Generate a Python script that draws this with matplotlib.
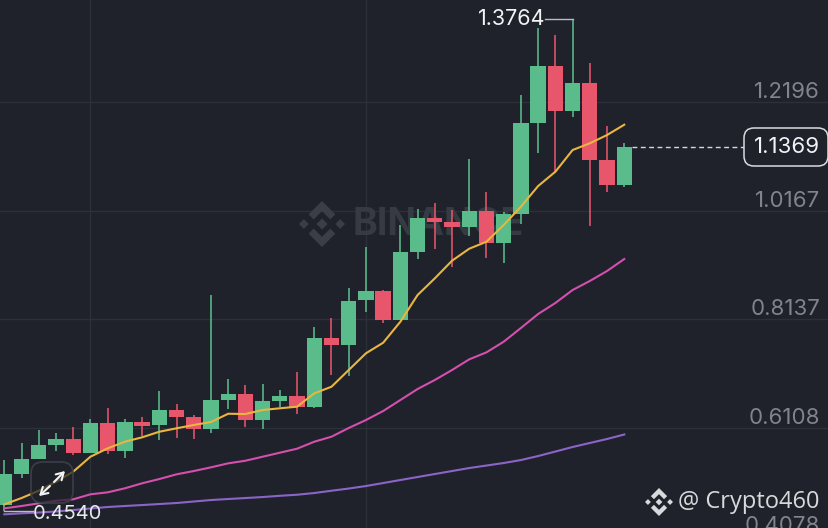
import matplotlib
matplotlib.use("Agg")
import matplotlib.pyplot as plt
from matplotlib.patches import FancyBboxPatch, Polygon

open_ = [.4656,.5231,.5518,.5780,.5887,.5630,.6192,.5673,.6211,.6149,.6436,.6305,.6074,.6623,.6735,.6243,.6599,.6692,
         .6498,.7790,.7647,.8490,.8665,.8127,.9395,1.0032,.9951,.9869,1.0169,.9564,1.0101,1.1817,1.2884,1.2042,1.2555,1.1113,1.0650]
close = [.5231,.5518,.5774,.5887,.5625,.6192,.5662,.6211,.6142,.6436,.6305,.6080,.6617,.6735,.6248,.6599,.6692,.6498,
         .7790,.7647,.8483,.8665,.8127,.9389,1.0032,.9951,.9858,1.0169,.9558,1.0101,1.1811,1.2884,1.2036,1.2555,1.1113,1.0650,1.1369]
high = [.5499,.5812,.6061,.5999,.6112,.6261,.6473,.6261,.6299,.6797,.6542,.6342,.8590,.7011,.6909,.6928,.6816,.7153,
        .7996,.8164,.8726,.9494,.8683,.9901,1.0195,1.0307,1.0176,1.1143,1.0513,1.0144,1.2330,1.3585,1.3465,1.3764,1.2929,1.1761,1.1431]
low = [.4540,.5168,.5518,.5673,.5593,.5630,.5612,.5542,.5949,.5868,.5917,.5887,.6011,.6460,.6117,.6085,.6492,.6355,
       .6479,.7091,.7073,.8271,.8060,.8127,.9270,.9446,.9120,.9695,.9283,.9183,.9919,1.1255,1.0869,1.1929,.9882,1.0513,1.0618]
ma_yellow = [.4669,.4787,.4924,.5093,.5280,.5561,.5718,.5842,.5924,.6029,.6093,.6155,.6211,.6366,.6361,.6436,.6468,.6498,
             .6748,.6872,.7185,.7498,.7696,.8090,.8590,.8902,.9232,.9457,.9588,.9901,1.0244,1.0631,1.0899,1.1305,1.1431,1.1586,1.1779]
ma_pink = [.4594,.4638,.4688,.4737,.4763,.4857,.4894,.4969,.5063,.5143,.5231,.5293,.5362,.5437,.5486,.5561,.5636,.5711,
           .5842,.5936,.6099,.6248,.6417,.6623,.6829,.6998,.7185,.7385,.7516,.7715,.7972,.8234,.8440,.8683,.8852,.9039,.9264]
ma_purple = [.4482,.4501,.4516,.4535,.4563,.4591,.4619,.4638,.4656,.4675,.4694,.4722,.4750,.4769,.4787,.4806,.4829,.4849,
             .4881,.4924,.4965,.5012,.5068,.5125,.5181,.5237,.5293,.5349,.5396,.5443,.5499,.5574,.5658,.5743,.5818,.5893,.5977]
price_ticks = [1.2196, 1.0167, 0.8137, 0.6108, 0.4078]
last_price = 1.1369

BG = "#1f222b"; GRID = "#2c3039"; GREEN = "#5abb8b"; RED = "#e7566a"
W, H = 829, 528
FS = 15.5
plt.rcParams['font.family'] = ['Inter', 'DejaVu Sans']

fig = plt.figure(figsize=(W/100, H/100), dpi=100, facecolor=BG)
ax = fig.add_axes([0, 0, 1, 1], facecolor=BG)
ax.set_xlim(-0.25, 47.89)
ax.set_ylim(0.4226, 1.4115)
ax.axis("off")

def px(x, y):
    return x / W, 1 - y / H
T = ax.transAxes

# grid
for p in price_ticks:
    ax.axhline(p, color=GRID, lw=1, zorder=1)
for i in (5, 21):
    ax.axvline(i, color=GRID, lw=1, zorder=1)

# logo helper
def logo(cx, cy, s, color, z=2):
    for dx, r in [(0, .24), (-.79, .21), (.79, .21)]:
        ax.add_patch(Polygon([px(cx+(dx-r)*s, cy), px(cx+dx*s, cy-r*s), px(cx+(dx+r)*s, cy), px(cx+dx*s, cy+r*s)],
                             transform=T, fc=color, ec="none", zorder=z))
    for sign in (-1, 1):
        ax.add_patch(Polygon([px(cx, cy+sign*s), px(cx+.58*s, cy+sign*.42*s), px(cx+.36*s, cy+sign*.2*s),
                              px(cx, cy+sign*.56*s), px(cx-.36*s, cy+sign*.2*s), px(cx-.58*s, cy+sign*.42*s)],
                             transform=T, fc=color, ec="none", zorder=z))

# watermark
logo(322, 224, 23, "#3a3e47", z=2)
tx, ty = px(353, 225)
ax.text(tx, ty, "BINANCE", transform=T, color="#363a43", fontsize=27, fontweight="bold",
        va="center", ha="left", zorder=2)

# candles
idx = list(range(len(close)))
colors = [GREEN if c >= o else RED for o, c in zip(open_, close)]
ax.vlines(idx, low, high, colors=colors, lw=1.15, zorder=3)
ax.bar(idx, [abs(c-o) for o, c in zip(open_, close)], bottom=[min(o, c) for o, c in zip(open_, close)],
       width=0.89, color=colors, linewidth=0, zorder=4)

# moving averages
ax.plot(idx, ma_purple, color="#8b64c8", lw=1.5, zorder=5)
ax.plot(idx, ma_pink, color="#d54fae", lw=1.5, zorder=5)
ax.plot(idx, ma_yellow, color="#e9b63f", lw=1.5, zorder=5)

# axis labels
for p in price_ticks:
    ax.annotate(f"{p:.4f}", xy=(820, p), xycoords=("figure pixels", "data"), xytext=(0, 0),
                textcoords="offset points", color="#80848c", fontsize=16, ha="right", va="bottom",
                annotation_clip=False, zorder=6)

# last price
ax.plot([36.45, 43.0], [last_price, last_price], color="#d6d8dc", lw=1, ls=(0, (3.5, 2.5)), zorder=6)
x0, y0 = px(744, 166); x1, y1 = px(828, 128)
ax.add_patch(FancyBboxPatch((x0, y0), x1-x0, y1-y0, boxstyle="round,pad=0,rounding_size=0.012",
                            mutation_aspect=W/H, transform=T, fc=BG, ec="#d9dbde", lw=1.1, zorder=7))
tx, ty = px(787, 147)
ax.text(tx, ty, f"{last_price:.4f}", transform=T, color="#f2f3f4", fontsize=16, ha="center", va="center", zorder=8)

# high marker
hi = max(high)
ax.plot([33, 31.4], [hi, hi], color="#b9bcc0", lw=1, zorder=6)
ax.text(31.4, hi, f"{hi:.4f}", color="#f2f3f4", fontsize=FS, ha="right", va="center", zorder=6)

# low marker
lo = min(low)
ax.plot([0, 1.65], [lo, lo], color="#b9bcc0", lw=1, zorder=6)
ax.annotate(f"{lo:.4f}", xy=(1.68, lo), xytext=(0, -2), textcoords="offset points", color="#e8e9eb",
            fontsize=14.5, ha="left", va="center", zorder=8)

# expand button
x0, y0 = px(31, 503); x1, y1 = px(73, 462)
ax.add_patch(FancyBboxPatch((x0, y0), x1-x0, y1-y0, boxstyle="round,pad=0,rounding_size=0.014",
                            mutation_aspect=W/H, transform=T, fc=(0.12, 0.13, 0.16, 0.72), ec="#3b3e47", lw=1.2, zorder=7))
for a, b in [(px(54, 482), px(65, 471)), (px(50, 486), px(39, 496))]:
    ax.annotate("", xy=b, xytext=a, xycoords=T, textcoords=T, zorder=8,
                arrowprops=dict(arrowstyle="->,head_length=0.5,head_width=0.3", color="#f2f3f4", lw=1.5,
                                shrinkA=0, shrinkB=0))

# footer
logo(659, 502, 14, "#d8d9db", z=9)
tx, ty = px(820, 502)
ax.text(tx, ty, "@ Crypto460", transform=T, color="#d8d9db", fontsize=17, family=["Open Sans", "DejaVu Sans"],
        ha="right", va="center", zorder=9)

fig.savefig("out.png", dpi=100, facecolor=BG)
